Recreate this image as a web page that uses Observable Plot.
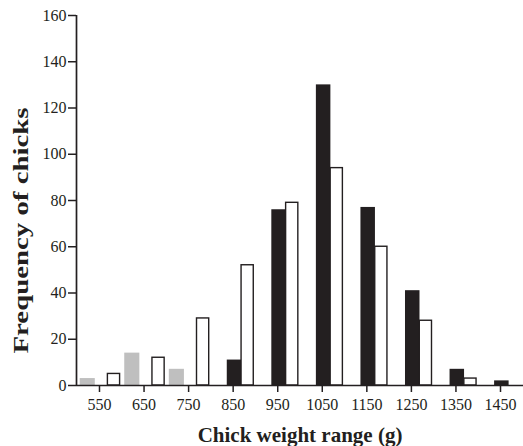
<!DOCTYPE html>
<html>
<head>
<meta charset="utf-8">
<script src="https://cdn.jsdelivr.net/npm/d3@7"></script>
<script src="https://cdn.jsdelivr.net/npm/@observablehq/plot@0.6"></script>
<style>
  html, body { margin: 0; padding: 0; background: #fff; }
</style>
</head>
<body>
<div id="chart"></div>
<script>
// ---- data ----
const xTicks = [550, 650, 750, 850, 950, 1050, 1150, 1250, 1350, 1450];
const yTicks = [0, 20, 40, 60, 80, 100, 120, 140, 160];

const grayCats = [550, 650, 750];
const grayCounts = [3, 14, 7];

const blackCats = [850, 950, 1050, 1150, 1250, 1350, 1450];
const blackCounts = [11, 76, 130, 77, 41, 7, 2];

const whiteCats = [550, 650, 750, 850, 950, 1050, 1150, 1250, 1350];
const whiteCounts = [5, 12, 29, 52, 79, 94, 60, 28, 3];

const xLabel = "Chick weight range (g)";
const yLabel = "Frequency of chicks";

// ---- layout ----
const W = 523, H = 446;
const mL = 76, mR = 0, mT = 15, mB = 61;
const xDomain = [498.4, 1501.6];
const k = (W - mL - mR) / (xDomain[1] - xDomain[0]); // px per gram
// bar offsets (px) relative to each category tick
const offGray = [-19.3, -4.2];
const offBlack = [-5.9, 8.6];
const offWhite = [8.4, 20.6];

const ink = "#231f20";
const toRows = (cats, counts) => cats.map((c, i) => ({cat: c, count: counts[i]}));
const gray = toRows(grayCats, grayCounts);
const black = toRows(blackCats, blackCounts);
const white = toRows(whiteCats, whiteCounts);

const barOpts = (off) => ({
  x1: d => d.cat + off[0] / k,
  x2: d => d.cat + off[1] / k,
  y1: 0,
  y2: "count"
});

const chart = Plot.plot({
  width: W,
  height: H,
  marginLeft: mL,
  marginRight: mR,
  marginTop: mT,
  marginBottom: mB,
  style: {fontFamily: "'Liberation Serif', 'DejaVu Serif', serif", fontSize: "16px", color: ink, background: "#fff", overflow: "visible"},
  x: {domain: xDomain, axis: null},
  y: {domain: [0, 160], axis: null},
  marks: [
    Plot.rect(gray, {...barOpts(offGray), fill: "#bfbfbf"}),
    Plot.rect(black, {...barOpts(offBlack), fill: ink}),
    Plot.rect(white, {...barOpts(offWhite), fill: "#fff", stroke: ink, strokeWidth: 1.4}),
    Plot.ruleY([0], {stroke: ink, strokeWidth: 1.7}),
    Plot.ruleX([xDomain[0]], {y1: 0, y2: 160, stroke: ink, strokeWidth: 1.7}),
    Plot.axisX({ticks: xTicks, tickFormat: d => String(d), tickSize: 7, tickPadding: 6, strokeWidth: 1.5, stroke: ink, fill: ink, label: null}),
    Plot.axisY({ticks: yTicks, tickFormat: d => String(d), tickSize: 8, tickPadding: 2, strokeWidth: 1.5, stroke: ink, fill: ink, label: null}),
    Plot.text([xLabel], {text: d => d, frameAnchor: "bottom", dy: 56, lineAnchor: "bottom", fontSize: 21, fontWeight: "bold", fill: ink}),
    Plot.text([yLabel], {text: d => d, frameAnchor: "left", dx: -49, dy: 153, rotate: -90, textAnchor: "start", lineAnchor: "bottom", fontSize: 21, fontWeight: "bold", fill: ink})
  ]
});

d3.select(chart).selectAll("text")
  .filter(function () { return this.textContent === yLabel; })
  .attr("textLength", 246)
  .attr("lengthAdjust", "spacingAndGlyphs");

document.getElementById("chart").appendChild(chart);
</script>
</body>
</html>
